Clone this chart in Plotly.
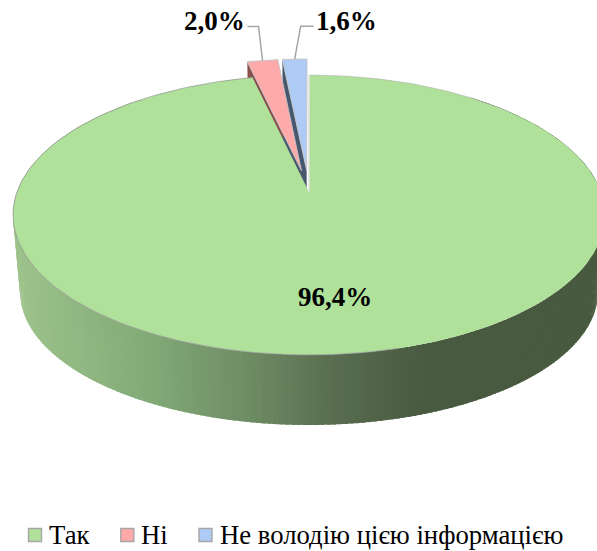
import numpy as np
import plotly.graph_objects as go

categories = ["Так", "Ні", "Не володію цією інформацією"]
values = [96.4, 2.0, 1.6]
value_labels = ["96,4%", "2,0%", "1,6%"]
top_colors = ["#AFE19B", "#FFAAAA", "#AECBF5"]
wall_colors = ["#6A8F5E", "#8A4F4F", "#47586E"]
explode = [0.0, 0.1626, 0.1626]

W, H = 597, 551
CX, CY, A, B, K = 309.0, 192.0, 292.0, 136.2, 0.164
CY2, B2, S2 = 270.2, 129.4, 0.976
FONT = "Liberation Serif"


def project(u, v, bottom=False):
    d = 1 + K * np.asarray(v)
    if bottom:
        return CX + A * S2 * np.asarray(u) / d, CY2 - B2 * np.asarray(v) / d
    return CX + A * np.asarray(u) / d, CY - B * np.asarray(v) / d


def disc(deg, e_mid=None, e=0.0, r=1.0):
    t = np.radians(deg)
    u0 = e * np.sin(np.radians(e_mid)) if e_mid is not None else 0.0
    v0 = e * np.cos(np.radians(e_mid)) if e_mid is not None else 0.0
    return u0 + r * np.sin(t), v0 + r * np.cos(t)


def wall_rgb(x):
    xs = [13, 150, 250, 330, 430, 597]
    r = np.interp(x, xs, [158, 130, 110, 90, 72, 72])
    g = np.interp(x, xs, [195, 170, 140, 110, 90, 90])
    b = np.interp(x, xs, [140, 118, 100, 80, 63, 63])
    return f"rgb({r:.0f},{g:.0f},{b:.0f})"


total = sum(values)
edges = np.cumsum([0] + values) / total * 360
mids = (edges[:-1] + edges[1:]) / 2

fig = go.Figure()


def poly(xs, ys, fill, line=None, lw=0.0):
    fig.add_trace(go.Scatter(
        x=list(xs), y=list(ys), mode="lines", fill="toself", fillcolor=fill,
        line=dict(color=line or fill, width=lw), hoverinfo="skip", showlegend=False))


def stroke(xs, ys, color, lw):
    fig.add_trace(go.Scatter(
        x=list(xs), y=list(ys), mode="lines",
        line=dict(color=color, width=lw), hoverinfo="skip", showlegend=False))


# Outer wall of the big slice, painted left to right so seams stay hidden
for a in np.arange(320, 39, -1.0):
    seg = np.linspace(a - 1.6, a, 3)
    u, v = disc(seg)
    xt, yt = project(u, v)
    xb, yb = project(u, v, bottom=True)
    c = wall_rgb(xt.mean())
    poly(np.r_[xt, xb[::-1], xt[0]], np.r_[yt, yb[::-1], yt[0]], c)

# Inner radial walls of the pulled-out slices
for i in (1, 2):
    u1, v1 = disc(edges[i], mids[i], explode[i], 0.0)
    u2, v2 = disc(edges[i], mids[i], explode[i], 1.0)
    x1, y1 = project(u1, v1)
    x2, y2 = project(u2, v2)
    x3, y3 = project(u2, v2, bottom=True)
    x4, y4 = project(u1, v1, bottom=True)
    poly([x1, x2, x3, x4, x1], [y1, y2, y3, y4, y1], wall_colors[i])

# Top faces of the pulled-out slices
for i in (1, 2):
    seg = np.linspace(edges[i], edges[i + 1], 12)
    u, v = disc(seg, mids[i], explode[i])
    u0, v0 = disc(edges[i], mids[i], explode[i], 0.0)
    x, y = project(np.r_[u0, u, u0], np.r_[v0, v, v0])
    poly(x, y, top_colors[i], "rgba(195,195,195,0.9)", 1)

# Top face of the big slice
seg = np.linspace(edges[0], edges[1], 361)
u, v = disc(seg)
x, y = project(np.r_[0, u, 0], np.r_[0, v, 0])
poly(x, y, top_colors[0])
# Thin grey rim on the lit side only
rim = np.linspace(165, edges[1], 120)
ur, vr = disc(rim)
xr, yr = project(ur, vr)
stroke(xr, yr, "rgba(150,150,150,0.75)", 1)
rim = np.linspace(0, 50, 50)
ur, vr = disc(rim)
xr, yr = project(ur, vr)
stroke(xr, yr, "rgba(170,170,170,0.5)", 1)
ue, ve = disc(0.0)
xe, ye = project(np.r_[0.0, ue], np.r_[0.0, ve])
stroke(xe, ye, "rgba(225,225,225,1)", 1.5)

# Leader lines and data labels
leader_offsets = [None, (-4, -34, -15, -34), (6, -33, 19, -33)]
label_pos = [(335, 297), (214, 21), (346, 21)]
for i, txt in enumerate(value_labels):
    if leader_offsets[i]:
        ue, ve = disc(mids[i], mids[i], explode[i])
        xe, ye = project(ue, ve)
        dx1, dy1, dx2, dy2 = leader_offsets[i]
        stroke([xe, xe + dx1, xe + dx2], [ye, ye + dy1, ye + dy2], "#A6A6A6", 1.5)
    fig.add_annotation(x=label_pos[i][0], y=label_pos[i][1], text=f"<b>{txt}</b>",
                       showarrow=False, font=dict(family=FONT, size=27, color="black"))

# Legend
swatch_x = [35, 127.3, 205.5]
text_x = [47, 139, 217.5]
fig.add_trace(go.Scatter(
    x=swatch_x, y=[535] * 3, mode="markers",
    marker=dict(symbol="square", size=13, color=top_colors,
                line=dict(color="#A6A6A6", width=1.4)),
    hoverinfo="skip", showlegend=False))
for name, tx in zip(categories, text_x):
    fig.add_annotation(x=tx, y=535, text=name, showarrow=False, xanchor="left",
                       font=dict(family=FONT, size=26.7, color="black"))

fig.update_layout(
    width=W, height=H, margin=dict(l=0, r=0, t=0, b=0),
    paper_bgcolor="white", plot_bgcolor="white", showlegend=False,
    xaxis=dict(range=[0, W], visible=False, fixedrange=True),
    yaxis=dict(range=[H, 0], visible=False, fixedrange=True),
)
fig.write_html("out.html", config={"displayModeBar": False},
               post_script="document.body.style.margin='0';")
